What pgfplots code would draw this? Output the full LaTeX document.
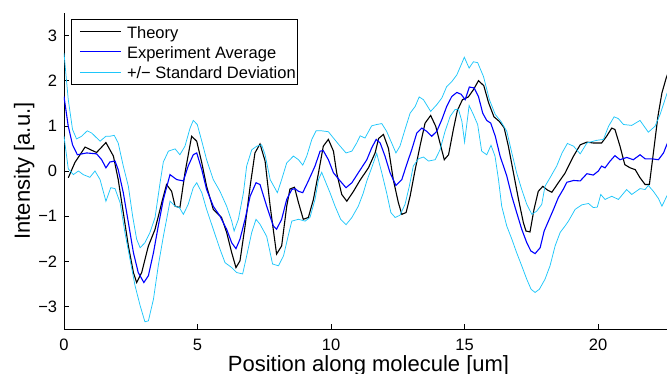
\documentclass[border=0pt]{standalone}
\usepackage{pgfplots}
\pgfplotsset{compat=1.18}
\usepackage{fontspec}
\setmainfont{Liberation Sans}
\definecolor{sdcyan}{RGB}{30,198,250}
\begin{document}
\begin{tikzpicture}
\begin{axis}[name=ax,
  scale only axis, width=603pt, height=316pt,
  xmin=0, xmax=22.58, ymin=-3.5, ymax=3.5,
  axis lines=left, axis line style={-, line width=0.8pt},
  tick align=inside, major tick length=5pt, tick style={line width=0.6pt, black},
  xtick={0,5,10,15,20}, xticklabels={0,5,10,15,20},
  ytick={-3,-2,-1,0,1,2,3}, yticklabels={−3,−2,−1,0,1,2,3},
  /pgf/number format/assume math mode=true,
  ticklabel style={font=\fontsize{16.5}{19.8}\selectfont, inner sep=0pt},
  xticklabel style={yshift=-10pt},
  yticklabel style={xshift=-6.7pt},
  xlabel={Position along molecule [um]},
  ylabel={Intensity [a.u.]},
  label style={font=\fontsize{22}{26}\selectfont, inner sep=0pt},
  xlabel style={at={(axis description cs:0.505,0)}, anchor=base, yshift=-43pt},
  ylabel style={at={(axis description cs:0,0.5)}, anchor=base, yshift=34pt},
  clip=true,
  legend style={at={(axis description cs:0,1)}, anchor=north west, xshift=7pt, yshift=-6pt,
    draw=black, line width=0.8pt, fill=white, inner xsep=1.5pt, inner ysep=2.5pt,
    font=\fontsize{16.5}{19.8}\selectfont,
    nodes={inner xsep=0pt, inner ysep=0pt, text height=16.9pt, text depth=3.1pt}},
  legend cell align=left,
  legend image code/.code={\path (0pt,0pt) (53pt,0pt); \draw[#1] (6.5pt,0pt) -- (48pt,0pt);},
]
\addplot[black, line width=1.1pt] coordinates {
(0.16,-0.15) (0.41,0.19) (0.79,0.53) (1.0,0.47) (1.22,0.41) (1.57,0.63) (1.85,0.33)
(2.03,-0.19) (2.22,-0.92) (2.41,-1.66) (2.6,-2.25) (2.72,-2.47) (2.91,-2.25) (3.16,-1.66)
(3.41,-1.29) (3.66,-0.70) (3.84,-0.30) (4.03,-0.45) (4.16,-0.78) (4.34,-0.81) (4.53,-0.04)
(4.78,0.77) (4.97,0.66) (5.16,0.18) (5.34,-0.34) (5.59,-0.85) (5.9,-1.03) (6.09,-1.36)
(6.28,-1.81) (6.44,-2.14) (6.59,-1.99) (6.78,-1.22) (6.97,-0.34) (7.15,0.40) (7.34,0.60)
(7.53,0.22) (7.72,-0.78) (7.96,-1.84) (8.15,-1.66) (8.34,-0.78) (8.46,-0.40) (8.63,-0.36)
(8.78,-0.70) (8.96,-1.07) (9.15,-1.03) (9.34,-0.63) (9.53,-0.04) (9.71,0.55) (9.9,0.70)
(10.09,0.44) (10.21,-0.04) (10.4,-0.52) (10.59,-0.67) (10.84,-0.45) (11.09,-0.20) (11.4,0.07)
(11.65,0.40) (11.78,0.72) (11.96,0.81) (12.15,0.50) (12.33,-0.19) (12.52,-0.70) (12.65,-0.96)
(12.81,-0.92) (12.96,-0.56) (13.15,0.03) (13.33,0.55) (13.52,1.06) (13.73,1.23) (13.92,0.99)
(14.08,0.62) (14.24,0.25) (14.40,0.36) (14.58,0.92) (14.73,1.34) (14.92,1.58) (15.14,1.64)
(15.33,1.80) (15.52,2.0) (15.72,1.89) (15.9,1.51) (16.1,1.20) (16.3,1.10) (16.48,0.96)
(16.64,0.55) (16.83,-0.04) (17.02,-0.63) (17.2,-1.14) (17.3,-1.33) (17.45,-1.35) (17.6,-0.85)
(17.76,-0.45) (17.93,-0.34) (18.1,-0.42) (18.27,-0.47) (18.51,-0.26) (18.76,-0.05) (19.08,0.33)
(19.33,0.58) (19.58,0.64) (19.82,0.62) (20.13,0.62) (20.32,0.77) (20.51,0.95) (20.63,0.92)
(20.82,0.55) (21.0,0.14) (21.2,0.07) (21.39,0.03) (21.57,-0.15) (21.76,-0.30) (21.92,-0.30)
(22.07,0.40) (22.24,1.21) (22.39,1.73) (22.55,2.06) (22.7,2.3)
};
\addlegendentry{Theory}
\addplot[blue, line width=1.1pt] coordinates {
(0,1.65) (0.16,0.99) (0.32,0.58) (0.5,0.36) (0.85,0.40) (1.22,0.38) (1.41,0.25) (1.57,0.07)
(1.72,0.20) (1.91,0.22) (2.03,0.03) (2.22,-0.48) (2.41,-1.14) (2.6,-1.81) (2.78,-2.25)
(2.99,-2.47) (3.16,-2.32) (3.35,-1.81) (3.53,-1.22) (3.72,-0.63) (3.97,-0.08) (4.22,-0.19)
(4.47,-0.22) (4.65,0.11) (4.84,0.36) (4.97,0.40) (5.16,0.03) (5.34,-0.41) (5.59,-0.78)
(5.84,-1.0) (6.09,-1.29) (6.28,-1.59) (6.44,-1.72) (6.59,-1.51) (6.78,-1.07) (6.97,-0.56)
(7.19,-0.26) (7.34,-0.30) (7.59,-0.78) (7.84,-1.22) (7.96,-1.29) (8.15,-1.07) (8.34,-0.63)
(8.53,-0.41) (8.65,-0.39) (8.78,-0.45) (8.94,-0.48) (9.15,-0.22) (9.4,0.11) (9.59,0.44)
(9.71,0.45) (9.9,0.25) (10.09,-0.04) (10.34,-0.22) (10.56,-0.37) (10.78,-0.26) (11.02,-0.04)
(11.34,0.25) (11.52,0.51) (11.69,0.70) (11.84,0.62) (12.02,0.33) (12.21,-0.04) (12.43,-0.32)
(12.65,-0.19) (12.83,0.14) (13.02,0.47) (13.21,0.84) (13.4,0.95) (13.58,0.88) (13.77,0.77)
(13.96,0.88) (14.15,1.14) (14.33,1.43) (14.52,1.65) (14.71,1.74) (14.87,1.70) (15.02,1.58)
(15.18,1.86) (15.36,1.84) (15.52,1.65) (15.68,1.28) (15.83,1.12) (15.98,1.06) (16.15,0.77)
(16.33,0.33) (16.58,-0.11) (16.77,-0.56) (16.95,-0.92) (17.14,-1.29) (17.33,-1.59) (17.48,-1.77)
(17.64,-1.83) (17.83,-1.70) (17.98,-1.33) (18.14,-1.11) (18.33,-0.85) (18.51,-0.59) (18.7,-0.40)
(18.83,-0.25) (19.08,-0.21) (19.33,-0.22) (19.58,-0.06) (19.82,-0.09) (20.01,0.0) (20.13,0.11)
(20.26,0.07) (20.45,0.22) (20.63,0.34) (20.82,0.25) (21.07,0.30) (21.32,0.25) (21.57,0.36)
(21.76,0.27) (22.01,0.27) (22.26,0.25) (22.45,0.40) (22.57,0.58) (22.7,0.75)
};
\addlegendentry{Experiment Average}
\addplot[sdcyan, line width=0.75pt] coordinates {
(0,2.61) (0.16,1.58) (0.32,0.92) (0.47,0.71) (0.66,0.77) (0.87,0.89) (1.04,0.84) (1.35,0.66)
(1.57,0.77) (1.72,0.77) (1.88,0.79) (2.03,0.62) (2.22,0.11) (2.41,-0.34) (2.57,-1.0)
(2.72,-1.51) (2.85,-1.70) (3.03,-1.59) (3.22,-1.36) (3.41,-1.03) (3.6,-0.25) (3.72,0.20)
(3.91,0.44) (4.16,0.49) (4.34,0.36) (4.53,0.55) (4.72,0.95) (4.84,1.12) (4.99,1.03) (5.16,0.66)
(5.34,0.25) (5.59,-0.19) (5.84,-0.45) (6.09,-0.78) (6.28,-1.11) (6.37,-1.33) (6.53,-1.07)
(6.72,-0.48) (6.84,0.11) (7.03,0.47) (7.22,0.55) (7.4,0.58) (7.53,0.36) (7.72,-0.19)
(7.99,-0.48) (8.15,-0.19) (8.34,0.18) (8.59,0.33) (8.78,0.25) (8.94,0.13) (9.09,0.33)
(9.28,0.70) (9.44,0.89) (9.65,0.89) (9.9,0.87) (10.09,0.73) (10.34,0.55) (10.56,0.40)
(10.78,0.44) (10.96,0.62) (11.09,0.78) (11.27,0.73) (11.52,1.0) (11.71,1.03) (11.9,1.05)
(12.08,0.88) (12.27,0.62) (12.43,0.40) (12.58,0.55) (12.77,0.92) (12.96,1.28) (13.15,1.43)
(13.3,1.64) (13.46,1.58) (13.73,1.32) (13.96,1.47) (14.15,1.62) (14.33,1.87) (14.52,1.98)
(14.71,2.13) (14.87,2.35) (14.99,2.52) (15.17,2.28) (15.33,2.42) (15.49,2.40) (15.71,2.09)
(15.93,1.58) (16.15,1.25) (16.36,1.10) (16.58,0.88) (16.77,0.40) (16.95,-0.04) (17.14,-0.41)
(17.33,-0.74) (17.52,-0.96) (17.7,-0.89) (17.89,-0.74) (18.01,-0.34) (18.2,-0.15) (18.45,0.11)
(18.65,0.40) (18.85,0.61) (19.08,0.55) (19.33,0.38) (19.58,0.62) (19.95,0.68) (20.2,0.70)
(20.39,0.99) (20.6,1.20) (20.76,1.16) (20.95,1.03) (21.26,1.01) (21.57,1.12) (21.88,0.86)
(22.13,0.99) (22.32,1.25) (22.57,1.70) (22.7,1.9)
};
\addlegendentry{+/− Standard Deviation}
\addplot[sdcyan, line width=0.75pt, forget plot] coordinates {
(0,0.77) (0.16,0.05) (0.35,-0.08) (0.54,0.0) (0.72,-0.08) (0.97,-0.14) (1.16,0.0) (1.35,-0.19)
(1.57,-0.67) (1.75,-0.37) (1.91,-0.39) (2.1,-0.70) (2.28,-1.36) (2.47,-1.95) (2.66,-2.54)
(2.85,-2.98) (3.03,-3.34) (3.16,-3.32) (3.35,-2.84) (3.53,-2.10) (3.72,-1.45) (3.97,-0.67)
(4.16,-0.78) (4.32,-0.81) (4.47,-0.96) (4.65,-0.74) (4.84,-0.37) (4.97,-0.26) (5.16,-0.48)
(5.34,-0.85) (5.59,-1.29) (5.84,-1.73) (6.03,-2.03) (6.28,-2.14) (6.47,-2.25) (6.69,-2.28)
(6.84,-1.88) (7.03,-1.36) (7.19,-1.07) (7.34,-1.18) (7.59,-1.45) (7.81,-2.06) (8.03,-2.10)
(8.22,-1.88) (8.41,-1.40) (8.53,-1.11) (8.78,-1.07) (9.03,-1.11) (9.21,-1.03) (9.4,-0.63)
(9.53,-0.19) (9.65,-0.03) (9.78,-0.22) (9.96,-0.48) (10.15,-0.78) (10.36,-1.07) (10.56,-1.19)
(10.78,-1.03) (11.02,-0.78) (11.2,-0.50) (11.34,-0.22) (11.52,0.07) (11.71,0.39) (11.9,-0.04)
(12.08,-0.48) (12.24,-0.92) (12.4,-1.03) (12.58,-0.98) (12.77,-0.74) (12.93,-0.34) (13.08,0.11)
(13.27,0.27) (13.46,0.31) (13.65,0.22) (13.9,0.25) (14.08,0.47) (14.27,0.88) (14.46,1.21)
(14.64,1.36) (14.77,1.37) (14.9,1.10) (15.0,0.64) (15.17,1.45) (15.33,1.25) (15.49,1.03)
(15.64,0.44) (15.83,0.36) (15.99,0.57) (16.14,0.33) (16.27,-0.19) (16.39,-0.78) (16.58,-1.22)
(16.77,-1.51) (16.95,-1.81) (17.14,-2.10) (17.33,-2.40) (17.49,-2.62) (17.64,-2.69) (17.8,-2.62)
(18.01,-2.40) (18.2,-2.10) (18.39,-1.66) (18.58,-1.36) (18.76,-1.22) (18.89,-1.11) (19.14,-0.85)
(19.39,-0.75) (19.64,-0.72) (19.82,-0.81) (19.97,-0.80) (20.1,-0.52) (20.26,-0.63) (20.51,-0.56)
(20.76,-0.63) (21.07,-0.41) (21.26,-0.52) (21.57,-0.39) (21.76,-0.41) (21.88,-0.32) (22.07,-0.45)
(22.26,-0.61) (22.39,-0.78) (22.57,-0.56) (22.7,-0.45)
};
\end{axis}
\pgfresetboundingbox
\useasboundingbox (ax.south west) ++(-64pt,-45pt) rectangle ++(667pt,374pt);
\end{tikzpicture}
\end{document}
